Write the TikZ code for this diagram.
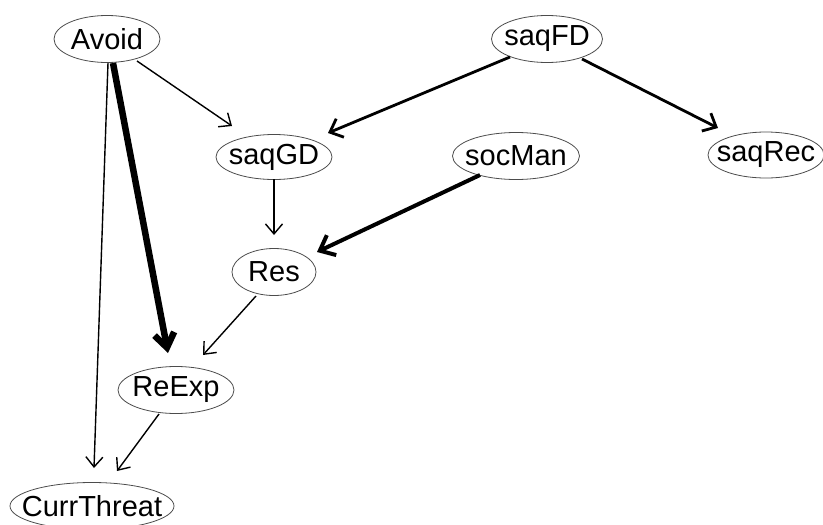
\documentclass[tikz,border=0pt]{standalone}
\usepackage{fontspec}
\setmainfont{Liberation Sans}
\usetikzlibrary{shapes.geometric,arrows.meta}
\newcommand{\lbl}[1]{\makebox[0pt]{#1}}
\tikzset{
  var/.style={draw=black!70, line width=0.8pt, ellipse, inner sep=0pt, minimum height=47pt, font=\fontsize{29}{32}\selectfont},
  thinedge/.style={line width=1.4pt, -{Straight Barb[length=10pt,width=17pt,line width=1.4pt]}},
  midedge/.style={line width=2.8pt, -{Straight Barb[length=11pt,width=20pt,line width=2.8pt]}},
  bigedge/.style={line width=4pt, -{Straight Barb[length=13pt,width=22pt,line width=4pt]}},
  hugeedge/.style={line width=6.5pt, -{Straight Barb[length=14pt,width=20pt,line width=6.5pt]}}
}
\begin{document}
\begin{tikzpicture}[x=1pt,y=-1pt]
\useasboundingbox (0,0) rectangle (823,525);
\node[var, minimum width=106pt] (A) at (107,39) {\lbl{Avoid}};
\node[var, minimum width=111pt] (F) at (547,39) {\lbl{saqFD}};
\node[var, minimum width=116pt, minimum height=45pt] (G) at (274,157) {\lbl{saqGD}};
\node[var, minimum width=127pt] (S) at (516,156) {\lbl{socMan}};
\node[var, minimum width=116pt, minimum height=46pt] (R) at (766,155) {\lbl{saqRec}};
\node[var, minimum width=84pt] (Res) at (274,272) {\lbl{Res}};
\node[var, minimum width=116pt] (X) at (176,390) {\lbl{ReExp}};
\node[var, minimum width=164pt] (C) at (92,506) {\lbl{CurrThreat}};

\draw[thinedge] ([shift={(30,22)}]A.center) -- ([shift={(-42,-31)}]G.center);
\draw[hugeedge] ([shift={(6,24)}]A.center) -- ([shift={(-8,-37)}]X.center);
\draw[thinedge] ([shift={(1,24)}]A.center) -- ([shift={(2,-38)}]C.center);
\draw[midedge] ([shift={(-37,18)}]F.center) -- ([shift={(54,-24)}]G.center);
\draw[midedge] ([shift={(35,20)}]F.center) -- ([shift={(-48,-27)}]R.center);
\draw[bigedge] ([shift={(-36,19)}]S.center) -- ([shift={(43,-20)}]Res.center);
\draw[thinedge] ([shift={(0,22)}]G.center) -- ([shift={(0,-37)}]Res.center);
\draw[thinedge] ([shift={(-18,24)}]Res.center) -- ([shift={(27,-35)}]X.center);
\draw[thinedge] ([shift={(-17,24)}]X.center) -- ([shift={(25,-35)}]C.center);
\end{tikzpicture}
\end{document}
